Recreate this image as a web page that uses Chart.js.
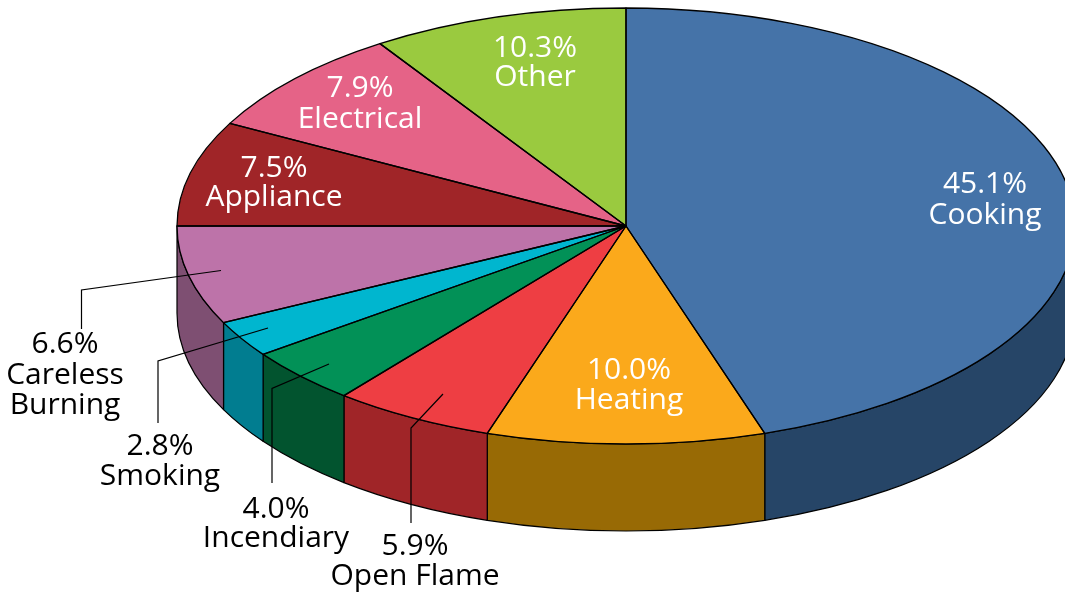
<!DOCTYPE html>
<html>
<head>
<meta charset="utf-8">
<style>html,body{margin:0;padding:0;background:#fff}canvas{display:block}</style>
<script src="https://cdn.jsdelivr.net/npm/chart.js@4"></script>
</head>
<body>
<canvas id="c" width="1065" height="593"></canvas>
<script>
const categories = ["Cooking","Heating","Open Flame","Incendiary","Smoking","Careless Burning","Appliance","Electrical","Other"];
// Percentages printed on the chart
const printedPercent = ["45.1%","10.0%","5.9%","4.0%","2.8%","6.6%","7.5%","7.9%","10.3%"];
// Slice sizes as actually drawn in the picture (read from the slice boundaries)
const drawnShares = [45.0,10.0,5.81,4.17,2.71,7.31,7.8,7.97,9.23];
const topColors = ["#4573A8","#FBA91B","#EE3E43","#029157","#00B6CF","#BD73A9","#A02528","#E56387","#9ACA3F"];
const wallColors = ["#264567","#986A05","#A02528","#02542F","#017D90","#7E4F72","#A02528","#E56387","#9ACA3F"];

// Layout of the annotations
const squash = 218/449, depth = 87;
const labelFont = '30px "Open Sans", sans-serif';
const labelLayout = [
 {i:0,x:985,base:[193,224],color:"#fff",lines:["Cooking"]},
 {i:1,x:629,base:[379,409],color:"#fff",lines:["Heating"]},
 {i:2,x:415,base:[555,585],color:"#000",lines:["Open Flame"]},
 {i:3,x:276,base:[518,547],color:"#000",lines:["Incendiary"]},
 {i:4,x:160,base:[455,485],color:"#000",lines:["Smoking"]},
 {i:5,x:65,base:[353,384,414],color:"#000",lines:["Careless","Burning"]},
 {i:6,x:274,base:[177,206],color:"#fff",lines:["Appliance"]},
 {i:7,x:360,base:[97,128],color:"#fff",lines:["Electrical"]},
 {i:8,x:535,base:[57,86],color:"#fff",lines:["Other"]}
];
const leaders = [
 [[221,270.5],[81.5,290],[81.5,329]],
 [[268,328],[158,361],[158,423]],
 [[329,364],[272,388.5],[272,483]],
 [[443,394],[411,428],[411,523]]
];

const pie3d = {
 id:"pie3d",
 beforeDatasetsDraw(chart){
  const ctx = chart.ctx, arcs = chart.getDatasetMeta(0).data;
  const cx = arcs[0].x, cy = arcs[0].y, rx = arcs[0].outerRadius, ry = rx*squash;
  ctx.save();
  ctx.lineWidth = 1.2; ctx.strokeStyle = "#000"; ctx.lineJoin = "round";
  arcs.forEach((a,i)=>{
   const s = Math.max(a.startAngle,0), e = Math.min(a.endAngle,Math.PI);
   if(e<=s) return;
   ctx.beginPath();
   ctx.ellipse(cx,cy,rx,ry,0,s,e);
   ctx.ellipse(cx,cy+depth,rx,ry,0,e,s,true);
   ctx.closePath();
   ctx.fillStyle = wallColors[i];
   ctx.fill(); ctx.stroke();
  });
  ctx.restore();
  ctx.save();
  ctx.translate(cx,cy); ctx.scale(1,squash); ctx.translate(-cx,-cy);
 },
 afterDatasetsDraw(chart){
  const ctx = chart.ctx, arcs = chart.getDatasetMeta(0).data;
  ctx.restore();
  const cx = arcs[0].x, cy = arcs[0].y, rx = arcs[0].outerRadius, ry = rx*squash;
  ctx.save();
  ctx.lineWidth = 1.3; ctx.strokeStyle = "#000"; ctx.lineJoin = "round";
  arcs.forEach(a=>{
   ctx.beginPath();
   ctx.moveTo(cx,cy);
   ctx.ellipse(cx,cy,rx,ry,0,a.startAngle,a.endAngle);
   ctx.closePath();
   ctx.stroke();
  });
  ctx.lineWidth = 1.2; ctx.lineJoin = "miter";
  leaders.forEach(l=>{
   ctx.beginPath();
   l.forEach((p,k)=> k?ctx.lineTo(p[0],p[1]):ctx.moveTo(p[0],p[1]));
   ctx.stroke();
  });
  ctx.font = labelFont; ctx.textAlign = "center"; ctx.textBaseline = "alphabetic";
  labelLayout.forEach(t=>{
   ctx.fillStyle = t.color;
   ctx.fillText(printedPercent[t.i],t.x,t.base[0]);
   t.lines.forEach((s,k)=>ctx.fillText(s,t.x,t.base[k+1]));
  });
  ctx.restore();
 }
};

new Chart(document.getElementById("c"),{
 type:"pie",
 data:{labels:categories,datasets:[{data:drawnShares,backgroundColor:topColors,borderWidth:0,clip:false}]},
 options:{
  responsive:false,animation:false,radius:449,
  layout:{padding:{left:187,right:0,top:0,bottom:141}},
  plugins:{legend:{display:false},tooltip:{enabled:false}},
  events:[]
 },
 plugins:[pie3d]
});
</script>
</body>
</html>
